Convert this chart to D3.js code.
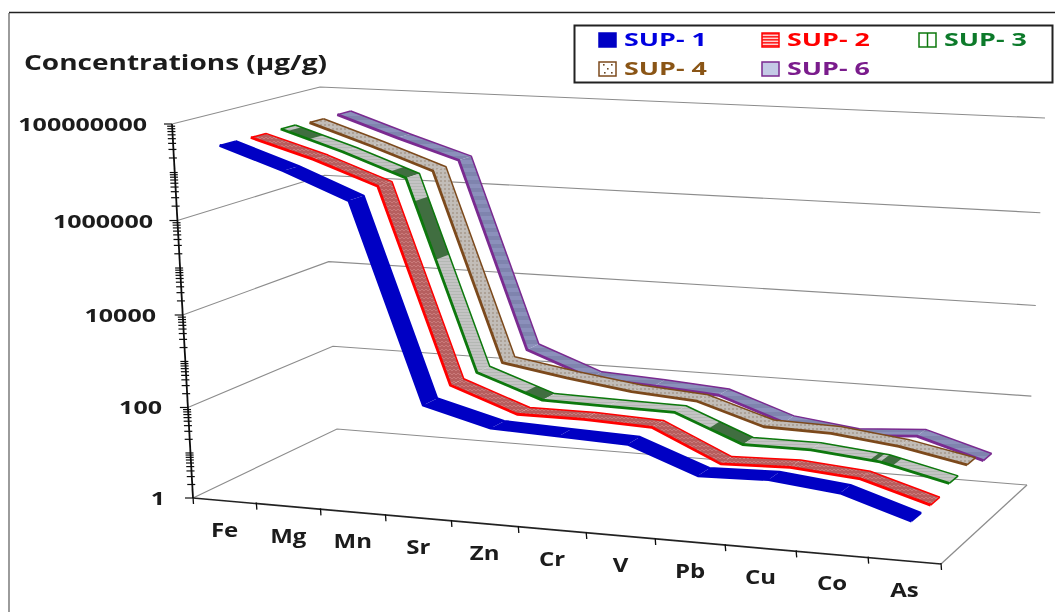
<!DOCTYPE html>
<html><head><meta charset="utf-8">
<script src="https://cdn.jsdelivr.net/npm/d3@7/dist/d3.min.js"></script>
<style>html,body{margin:0;padding:0;background:#fff}svg{display:block}text{font-family:"Open Sans",sans-serif;font-weight:700}</style>
</head><body><svg id="c" width="1055" height="612"></svg>
<script>
const categories=["Fe","Mg","Mn","Sr","Zn","Cr","V","Pb","Cu","Co","As"];
const seriesNames=["SUP- 1","SUP- 2","SUP- 3","SUP- 4","SUP- 6"];
const sup1=[35500000,12600000,3630000,230,96,84,74,21,23,16,5.5];
const sup2=[34700000,14100000,4570000,320,96,96,84,18,20,15,5.5];
const sup3=[35500000,13500000,4370000,320,100,94,89,23,23,16.5,7.5];
const sup4=[33100000,12000000,3980000,280,162,102,80,28,26,17.5,9];
const sup6=[33900000,12000000,4470000,295,85,71,56,17.5,11.5,14.5,5.4];
const tickLabels=[1,100,10000,1000000,100000000];
const edgeColors=["#0000c4","#ff0000","#0a780a","#7c4a1c","#7a2a90"];
const fillNames=["#0000c4","url(#pRed)","url(#pGreen)","url(#pBrown)","url(#pPurple)"];
const textColors=["#0000e0","#ff0000","#0a7a2a","#8a5414","#7a1a8c"];
const seriesValues=[sup1,sup2,sup3,sup4,sup6];
const greenDark=[[0,.1,.45],[1,.75,1],[2,.12,.42],[3,.72,1],[6,.5,1],[8,.85,.93],[9,.0,.18]];

const svg=d3.select("#c");
const defs=svg.append("defs");
defs.append("filter").attr("id","soft").append("feGaussianBlur").attr("stdDeviation",.4);
function pat(id,w,h,bg,draw){const p=defs.append("pattern").attr("id",id).attr("patternUnits","userSpaceOnUse").attr("width",w).attr("height",h);
  p.append("rect").attr("width",w).attr("height",h).attr("fill",bg);draw(p);}
pat("pRed",4,4,"#b65f5f",p=>{p.append("path").attr("d","M0 3L2 1L4 3").attr("fill","none").attr("stroke","#cf8282").attr("stroke-width",.8);});
pat("pGreen",6,3,"#c4c4c4",p=>{p.append("rect").attr("width",6).attr("height",1).attr("fill","#b4b8b4");});
pat("pBrown",4,4,"#c2bdb8",p=>{p.append("circle").attr("cx",1).attr("cy",1).attr("r",.8).attr("fill","#93806e");});
pat("pPurple",8,8,"#8b90bb",p=>{p.append("rect").attr("y",4).attr("width",8).attr("height",4).attr("fill","#7f84ae");});

const root=svg.append("g").attr("filter","url(#soft)");

const xBand=d3.scaleBand().domain(categories).range([0,1]);
const yLog=d3.scaleLog().domain([1,100000000]).range([0,1]);
const zBand=d3.scaleBand().domain(seriesNames).range([0,1]);
const ribbon=.1;

function homography(q){
  const [x0,y0]=q[0],[x1,y1]=q[1],[x2,y2]=q[2],[x3,y3]=q[3];
  const dx1=x1-x2,dx2=x3-x2,sx=x0-x1+x2-x3,dy1=y1-y2,dy2=y3-y2,sy=y0-y1+y2-y3;
  const den=dx1*dy2-dx2*dy1;
  const g=(sx*dy2-dx2*sy)/den,h=(dx1*sy-sx*dy1)/den;
  const a=x1-x0+g*x1,b=x3-x0+h*x3,c=x0,d=y1-y0+g*y1,e=y3-y0+h*y3,f=y0;
  return (u,w)=>{const t=g*u+h*w+1;return [(a*u+b*w+c)/t,(d*u+e*w+f)/t];};
}
const floor=homography([[193,498],[941,564],[1027,485],[337,429]]);
const top_=homography([[172,124],[959,165],[1045,118],[320,87]]);
function P(u,v0,w){const v=v0/(1+.0437*(1-v0));const a=floor(u,w),b=top_(u,w);return [a[0]+(b[0]-a[0])*v,a[1]+(b[1]-a[1])*v];}
function PM(u,v,w){const p=P(u,v,w);return [p[0]+8*v,p[1]];}
const line=d3.line();

const g=root.append("g");
tickLabels.forEach(t=>{const v=yLog(t);
  g.append("path").attr("d",line([P(0,v,0),P(0,v,1),P(1,v,1)])).attr("fill","none").attr("stroke","#8c8c8c").attr("stroke-width",1.1);});
g.append("path").attr("d",line([P(1,0,1),P(1,0,0)])).attr("fill","none").attr("stroke","#8c8c8c").attr("stroke-width",1.3);

g.append("path").attr("d",line([P(0,0,0),P(1,0,0)])).attr("fill","none").attr("stroke","#222").attr("stroke-width",1.7);
d3.range(categories.length+1).forEach(i=>{const u=i/categories.length,p=P(u,0,0),x=p[0]-3*Math.sin(Math.PI*u);
  g.append("line").attr("x1",x).attr("x2",x+.5).attr("y1",p[1]-1).attr("y2",p[1]+6).attr("stroke","#111").attr("stroke-width",1.3);});

g.append("path").attr("d",line([P(0,0,0),P(0,1,0)])).attr("stroke","#111").attr("stroke-width",1.8).attr("fill","none");
yLog.ticks().forEach(t=>{const p=P(0,yLog(t),0);const major=tickLabels.includes(t);
  g.append("line").attr("x1",p[0]-(major?8:5)).attr("x2",p[0]+(major?0:3)).attr("y1",p[1]).attr("y2",p[1]).attr("stroke","#111").attr("stroke-width",1.2);});
const yLabelX=[165,162,156,153,147];
tickLabels.forEach((t,i)=>{const p=P(0,yLog(t),0);
  g.append("text").attr("x",yLabelX[i]).attr("y",p[1]+7).attr("text-anchor","end")
   .attr("font-size",18.5).attr("fill","#1a1a1a").attr("textLength",String(t).length*14.3).attr("lengthAdjust","spacingAndGlyphs").text(t);});

categories.forEach(c=>{const u=xBand(c)+xBand.bandwidth()/2,p=P(u,0,0);
  const t=g.append("text").attr("x",p[0]-3*Math.sin(Math.PI*u)).attr("y",p[1]+36).attr("text-anchor","middle").attr("font-size",20).attr("fill","#1a1a1a").text(c);
  t.attr("textLength",t.node().getComputedTextLength()*1.2).attr("lengthAdjust","spacingAndGlyphs");});

d3.range(seriesNames.length-1,-1,-1).forEach(s=>{
  const wc=zBand(seriesNames[s])+zBand.bandwidth()/2, w0=wc-ribbon/2,w1=wc+ribbon/2;
  const vals=seriesValues[s];
  const gs=g.append("g");
  const U=i=>xBand(categories[i])+xBand.bandwidth()/2;
  d3.pairs(d3.range(vals.length)).forEach(([i,j])=>{
    const q=[PM(U(i),yLog(vals[i]),w0),PM(U(j),yLog(vals[j]),w0),PM(U(j),yLog(vals[j]),w1),PM(U(i),yLog(vals[i]),w1)];
    gs.append("path").attr("d",line(q)+"Z").attr("fill",fillNames[s]);
    if(s===2){greenDark.filter(d=>d[0]===i).forEach(d=>{
      const lerp=(a,b,t)=>[a[0]+(b[0]-a[0])*t,a[1]+(b[1]-a[1])*t];
      const r=[lerp(q[0],q[1],d[1]),lerp(q[0],q[1],d[2]),lerp(q[3],q[2],d[2]),lerp(q[3],q[2],d[1])];
      gs.append("path").attr("d",line(r)+"Z").attr("fill","#3f6e3f");});}
  });
  const edge=w=>vals.map((v,i)=>PM(U(i),yLog(v),w));
  const front=edge(w0),back=edge(w1);
  gs.append("path").attr("d",line(front)).attr("fill","none").attr("stroke",edgeColors[s]).attr("stroke-width",2.8).attr("stroke-linejoin","round");
  gs.append("path").attr("d",line(back)).attr("fill","none").attr("stroke",edgeColors[s]).attr("stroke-width",s===0?2.4:1.5).attr("stroke-linejoin","round");
  [[front[0],back[0]],[front[front.length-1],back[back.length-1]]].forEach(e=>gs.append("path").attr("d",line(e)).attr("stroke",edgeColors[s]).attr("stroke-width",1.5));
});

svg.append("path").attr("d","M9 612V13").attr("fill","none").attr("stroke","#666").attr("stroke-width",1.3);
svg.append("path").attr("d","M9 12.5H1055").attr("fill","none").attr("stroke","#222").attr("stroke-width",1.3);

root.append("text").attr("x",24).attr("y",70).attr("font-size",20.5).attr("fill","#1a1a1a").attr("textLength",303).attr("lengthAdjust","spacingAndGlyphs").text("Concentrations (µg/g)");

svg.append("rect").attr("x",574.5).attr("y",25.5).attr("width",478).attr("height",57).attr("fill","#fff").attr("stroke","#222").attr("stroke-width",2);
const lx=[599,762,919],ly=[40,69];
const swatch=["#0000c4","url(#lRed)","#fff","#fff","#c4cae6"];
pat("lRed",3,3,"#ffd0d0",p=>{p.append("rect").attr("width",3).attr("height",1.6).attr("fill","#f22");});
const leg=svg.append("g").attr("filter","url(#soft)");
seriesNames.forEach((n,i)=>{const x=lx[i%3],y=ly[Math.floor(i/3)];
  leg.append("rect").attr("x",x).attr("y",y-7).attr("width",17).attr("height",14).attr("fill",swatch[i]).attr("stroke",i===0?"#0000c4":edgeColors[i]).attr("stroke-width",1.5);
  if(i===2){leg.append("line").attr("x1",x+8.5).attr("x2",x+8.5).attr("y1",y-7).attr("y2",y+7).attr("stroke",edgeColors[2]).attr("stroke-width",1.5);}
  if(i===3){[[4,3],[12,3],[8,7],[5,11],[12,11]].forEach(d=>leg.append("rect").attr("x",x+d[0]).attr("y",y-7+d[1]-1).attr("width",1.6).attr("height",1.6).attr("fill","#6a4a28"));}
  leg.append("text").attr("x",x+25).attr("y",y+6).attr("font-size",18.5).attr("fill",textColors[i]).attr("textLength",83).attr("lengthAdjust","spacingAndGlyphs").text(n);
});
</script></body></html>
